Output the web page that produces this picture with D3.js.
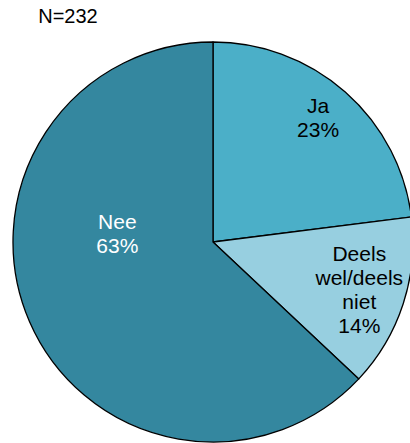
<!DOCTYPE html>
<html>
<head>
<meta charset="utf-8">
<script src="https://cdn.jsdelivr.net/npm/d3@7"></script>
<style>
  body { margin: 0; background: #fff; }
  svg { display: block; }
</style>
</head>
<body>
<div id="container"></div>
<script>
/* DATA */
const categories = ["Ja", "Deels wel/deels niet", "Nee"];
const values = [23, 14, 63];
const labelLines = [["Ja", "23%"], ["Deels", "wel/deels", "niet", "14%"], ["Nee", "63%"]];
const sampleLabel = "N=232";

/* CONSTANTS */
const width = 410, height = 443,
  cx = 213, cy = 242, radius = 200,
  colors = ["#4bafc8", "#97cfe0", "#34879f"],
  textColors = ["#000", "#000", "#fff"],
  // label placement: [angle in degrees from top, distance from centre]
  labelSpots = [[40.3, 162.5], [108.2, 154], [275, 96]];

const svg = d3.select("#container")
  .append("svg")
  .attr("width", width)
  .attr("height", height);

svg.append("text")
  .attr("x", 68)
  .attr("y", 23)
  .attr("text-anchor", "middle")
  .attr("font-family", "Liberation Sans, Arial, sans-serif")
  .attr("font-size", "20px")
  .attr("fill", "#000")
  .text(sampleLabel);

const pie = d3.pie().sort(null).value(d => d);
const arc = d3.arc().innerRadius(0).outerRadius(radius);

const g = svg.append("g").attr("transform", `translate(${cx},${cy})`);

g.selectAll("path")
  .data(pie(values))
  .join("path")
  .attr("d", arc)
  .attr("fill", (d, i) => colors[i])
  .attr("stroke", "#000")
  .attr("stroke-width", 1.3)
  .attr("stroke-linejoin", "round");

const lineH = 24;
const labels = g.selectAll(".slice-label")
  .data(labelLines)
  .join("text")
  .attr("class", "slice-label")
  .attr("text-anchor", "middle")
  .attr("font-family", "Liberation Sans, Arial, sans-serif")
  .attr("font-size", "21px")
  .attr("fill", (d, i) => textColors[i])
  .attr("transform", (d, i) => {
    const a = labelSpots[i][0] * Math.PI / 180, r = labelSpots[i][1];
    return `translate(${r * Math.sin(a)},${-r * Math.cos(a)})`;
  });

labels.selectAll("tspan")
  .data(d => d.map((t, j) => ({ t, j, n: d.length })))
  .join("tspan")
  .attr("x", 0)
  .attr("y", d => (d.j - (d.n - 1) / 2) * lineH + 7)
  .text(d => d.t);
</script>
</body>
</html>
